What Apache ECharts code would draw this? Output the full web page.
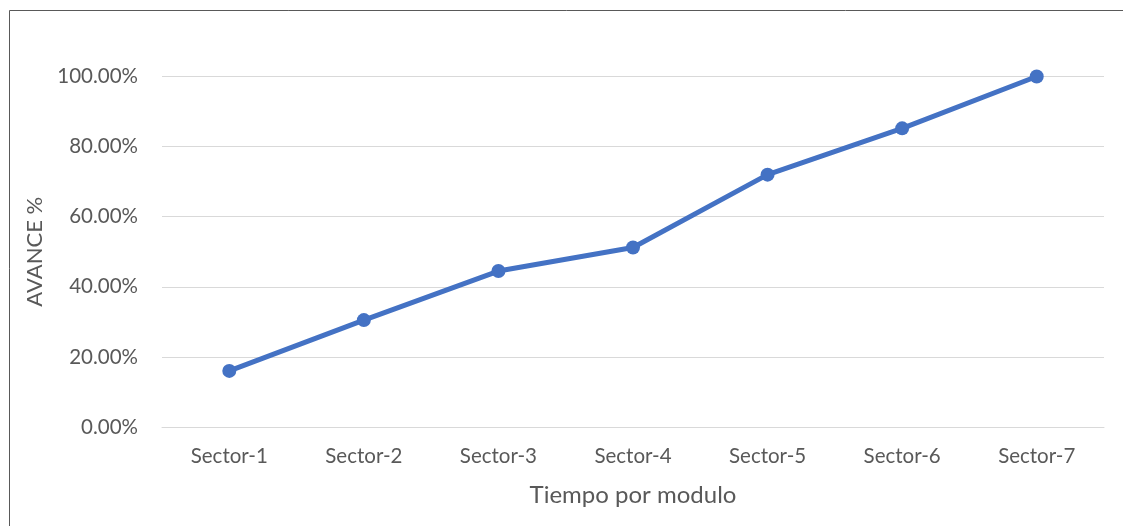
<!DOCTYPE html>
<html><head><meta charset="utf-8">
<script src="https://cdn.jsdelivr.net/npm/echarts@6/dist/echarts.min.js"></script>
<style>html,body{margin:0;padding:0;background:#fff}#c{width:1123px;height:526px}</style>
</head><body><div id="c"></div>
<script>
const categories = ['Sector-1','Sector-2','Sector-3','Sector-4','Sector-5','Sector-6','Sector-7'];
const avance = [0.16, 0.305, 0.445, 0.512, 0.72, 0.852, 1.0];
const yTicks = [0, 0.2, 0.4, 0.6, 0.8, 1.0];
const font = 'Lato, "Open Sans", sans-serif';
const chart = echarts.init(document.getElementById('c'));
chart.setOption({
  animation: false,
  grid: {left: 162, right: 19, top: 76.5, bottom: 99},
  graphic: [{type: 'rect', shape: {x: 9.5, y: 10.5, width: 1300, height: 1000}, style: {fill: 'none', stroke: '#595959', lineWidth: 1}, silent: true}],
  xAxis: {
    type: 'category', data: categories, boundaryGap: true,
    axisLine: {show: true, lineStyle: {color: '#d9d9d9'}},
    axisTick: {show: false},
    axisLabel: {color: '#595959', fontSize: 20.5, fontFamily: font, margin: 19},
    name: 'Tiempo por modulo', nameLocation: 'middle', nameGap: 56,
    nameTextStyle: {color: '#595959', fontSize: 24, fontFamily: font}
  },
  yAxis: {
    type: 'value', min: 0, max: 1, interval: 0.2,
    axisLine: {show: false}, axisTick: {show: false},
    splitLine: {lineStyle: {color: '#d9d9d9', width: 1}},
    axisLabel: {color: '#595959', fontSize: 20.5, fontFamily: font, margin: 24,
      formatter: v => yTicks.some(t => Math.abs(t - v) < 1e-9) ? (v * 100).toFixed(2) + '%' : ''},
    name: 'AVANCE %', nameLocation: 'middle', nameGap: 116,
    nameTextStyle: {color: '#595959', fontSize: 22, fontFamily: font}
  },
  series: [{
    type: 'line', data: avance, symbol: 'circle', symbolSize: 14,
    lineStyle: {color: '#4472C4', width: 5},
    itemStyle: {color: '#4472C4'}
  }]
});
</script></body></html>
